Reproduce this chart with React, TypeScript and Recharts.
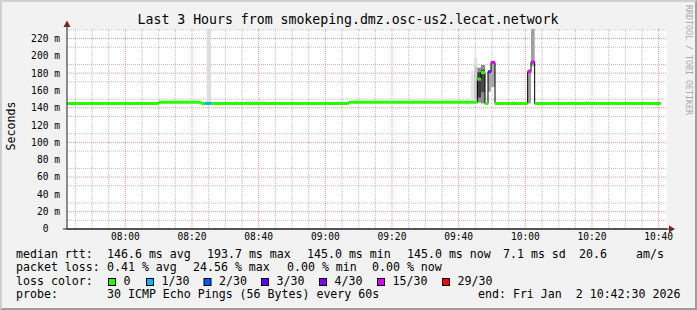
import React from 'react';
import { ComposedChart, Line, Area, XAxis, YAxis, CartesianGrid } from 'recharts';

const mono = '"DejaVu Sans Mono", monospace';

// time is minutes since midnight; the graph covers 07:42:30 .. 10:42:30
const timeDomain = [462.5, 642.5];
const timeTicks = [480, 500, 520, 540, 560, 580, 600, 620, 640];
const timeLabels = ['08:00', '08:20', '08:40', '09:00', '09:20', '09:40', '10:00', '10:20', '10:40'];
const timeMinor = [465, 470, 475, 485, 490, 495, 505, 510, 515, 525, 530, 535, 545, 550, 555, 565, 570, 575, 585, 590, 595, 605, 610, 615, 625, 630, 635];

const rttTicks = [0, 20, 40, 60, 80, 100, 120, 140, 160, 180, 200, 220];
const rttLabels = ['0\u00a0\u00a0', '20 m', '40 m', '60 m', '80 m', '100 m', '120 m', '140 m', '160 m', '180 m', '200 m', '220 m'];
const rttMinor = [10, 30, 50, 70, 90, 110, 130, 150, 170, 190, 210, 230];

// median rtt (ms): value i holds from stepTimes[i] to stepTimes[i + 1]
const stepTimes = [462.5, 490.0, 502.7, 503.9, 505.7, 547.0, 585.6, 586.7, 587.9, 588.8, 589.7, 590.9, 600.7, 601.7, 602.8, 640.6];
const medianRtt = [145.0, 146.3, 145.0, 145.0, 145.0, 146.3, 173.0, 180.6, 145.0, 181.7, 192.5, 145.0, 181.7, 192.9, 145.0];
const stepLoss = [0, 0, 0, 1, 0, 0, 0, 0, 0, 4, 15, 0, 15, 15, 0];

// smoke bands (min..max of the pings), light layers first
const smokeFrom = [504.4, 512.9, 515.9, 583.6, 584.6, 584.6, 585.6, 585.6, 586.7, 586.7, 588.8, 589.7, 595.9, 600.7, 601.7, 613.4, 617.9];
const smokeTo = [505.7, 513.8, 521.9, 584.6, 585.6, 585.6, 586.7, 586.7, 587.9, 587.9, 589.7, 590.9, 596.9, 601.7, 602.8, 614.3, 620.9];
const smokeLow = [145, 145, 145, 146, 146, 150, 146, 152, 145, 158, 158.6, 164, 145, 145, 188, 145, 145];
const smokeHigh = [240, 148, 148.5, 182.5, 198, 188, 186.3, 181, 189.4, 184, 181.7, 192.5, 148.5, 184.5, 240, 147.5, 148];
const smokeShade = ['#dddddd', '#e4e4e4', '#e4e4e4', '#e6e6e6', '#e0e0e0', '#cccccc', '#8c8c8c', '#3c3c3c', '#8c8c8c', '#4c4c4c', '#a8a8a8', '#a8a8a8', '#e4e4e4', '#a0a0a0', '#a0a0a0', '#e4e4e4', '#e4e4e4'];

const lossSteps = [0, 1, 2, 3, 4, 15, 29];
const lossLabels = ['0', '1/30', '2/30', '3/30', '4/30', '15/30', '29/30'];
const lossColors = ['#26ff00', '#00b8ff', '#0059ff', '#5e00ff', '#7e00ff', '#dd00ff', '#ff0000'];

const rttRow = ['median rtt:', '146.6 ms avg', '193.7 ms max', '145.0 ms min', '145.0 ms now', '7.1 ms sd', '20.6', 'am/s'];
const rttRowX = [16, 107, 207, 307, 407, 503, 579, 636];
const lossRow = ['packet loss:', '0.41 % avg', '24.56 % max', '0.00 % min', '0.00 % now'];
const lossRowX = [16, 107, 193, 287, 372];
const probeRow = ['probe:', '30 ICMP Echo Pings (56 Bytes) every 60s', 'end: Fri Jan  2 10:42:30 2026'];
const probeRowX = [16, 107, 478];
const lossBoxX = [108, 146, 203.5, 261, 319, 377, 442];

const colorOf = (loss: number) => lossColors[lossSteps.indexOf(loss)];

const medianLine = stepTimes.map((t, i) => ({ t, v: medianRtt[Math.min(i, medianRtt.length - 1)] }));

const pre = { whiteSpace: 'pre' as const };

const App: React.FC = () => {
  return (
    <div
      style={{
        position: 'absolute', left: 0, top: 0, width: 697, height: 310, boxSizing: 'border-box',
        background: '#f2f2f2', borderTop: '2px solid #cfcfcf', borderLeft: '2px solid #cfcfcf',
        borderRight: '2px solid #9e9e9e', borderBottom: '2px solid #9e9e9e',
      }}
    >
      <div style={{ position: 'absolute', left: -2, top: -2 }}>
        <ComposedChart width={697} height={310} margin={{ top: 29, right: 30, bottom: 61, left: 0 }}>
          <CartesianGrid horizontalValues={rttMinor} verticalValues={timeMinor} stroke="rgba(143,143,143,0.6)" strokeDasharray="1 1" fill="#ffffff" fillOpacity={1} />
          <CartesianGrid horizontalValues={rttTicks} verticalValues={timeTicks} stroke="rgba(222,79,79,0.6)" strokeDasharray="1 1" />
          <XAxis
            type="number" dataKey="t" domain={timeDomain} ticks={timeTicks} allowDataOverflow
            tickFormatter={(v: number) => timeLabels[timeTicks.indexOf(v)]}
            height={20} tickSize={0} tickMargin={4} tickLine={false}
            axisLine={{ stroke: '#1f1f1f', strokeWidth: 1 }}
            tick={{ fontSize: 9.6, fontFamily: mono, fill: '#000' }}
          />
          <YAxis
            type="number" domain={[0, 231]} ticks={rttTicks} allowDataOverflow
            tickFormatter={(v: number) => rttLabels[rttTicks.indexOf(v)]}
            width={67} tickSize={0} tickMargin={7} tickLine={false}
            axisLine={{ stroke: '#1f1f1f' }}
            tick={{ fontSize: 9.6, fontFamily: mono, fill: '#000', style: pre }}
          />
          {smokeFrom.map((s, i) => (
            <Area
              key={`smoke-${i}`}
              data={[{ t: s, band: [smokeLow[i], smokeHigh[i]] }, { t: smokeTo[i], band: [smokeLow[i], smokeHigh[i]] }]}
              dataKey="band" type="linear" stroke="none" fill={smokeShade[i]} fillOpacity={1}
              isAnimationActive={false} dot={false} activeDot={false} legendType="none"
            />
          ))}
          <Line
            data={medianLine} dataKey="v" type="stepAfter" stroke="#000" strokeWidth={1}
            dot={false} activeDot={false} isAnimationActive={false} legendType="none"
          />
          {medianRtt.map((v, i) => (
            <Line
              key={`med-${i}`}
              data={[{ t: stepTimes[i], v }, { t: stepTimes[i + 1], v }]}
              dataKey="v" type="linear" stroke={colorOf(stepLoss[i])} strokeWidth={3}
              dot={false} activeDot={false} isAnimationActive={false} legendType="none"
            />
          ))}
        </ComposedChart>
      </div>
      <svg width={697} height={310} style={{ position: 'absolute', left: -2, top: -2, pointerEvents: 'none' }}>
        {/* axis arrows */}
        <line x1={67} y1={29} x2={67} y2={26} stroke="#1f1f1f" />
        <polygon points="67,20.5 63.5,27 70.5,27" fill="#801f1f" />
        <line x1={63} y1={229} x2={669} y2={229} stroke="#1f1f1f" />
        <polygon points="675,229 669,225.5 669,232.5" fill="#801f1f" />

        <text x={348} y={24} textAnchor="middle" fontFamily={mono} fontSize={13.2} fill="#000" style={pre}>
          Last 3 Hours from smokeping.dmz.osc-us2.lecat.network
        </text>
        <text transform="translate(15,126) rotate(-90)" textAnchor="middle" fontFamily={mono} fontSize={11.6} fill="#000">
          Seconds
        </text>
        <text transform="translate(686,5) rotate(90)" fontFamily={mono} fontSize={8.3} fill="#aaaaaa" style={pre}>
          RRDTOOL / TOBI OETIKER
        </text>

        <g fontFamily={mono} fontSize={11.6} fill="#000">
          {rttRow.map((s, i) => (
            <text key={`r-${i}`} x={rttRowX[i]} y={257.5} style={pre}>{s}</text>
          ))}
          {lossRow.map((s, i) => (
            <text key={`l-${i}`} x={lossRowX[i]} y={271} style={pre}>{s}</text>
          ))}
          <text x={16} y={284.5} style={pre}>loss color:</text>
          {lossLabels.map((s, i) => (
            <g key={`lc-${i}`}>
              <rect x={lossBoxX[i] + 0.5} y={278.5} width={7} height={7} fill={lossColors[i]} stroke="#000" />
              <text x={lossBoxX[i] + 15.5} y={284.5} style={pre}>{s}</text>
            </g>
          ))}
          {probeRow.map((s, i) => (
            <text key={`p-${i}`} x={probeRowX[i]} y={298} style={pre}>{s}</text>
          ))}
        </g>
      </svg>
    </div>
  );
};

export default App;
